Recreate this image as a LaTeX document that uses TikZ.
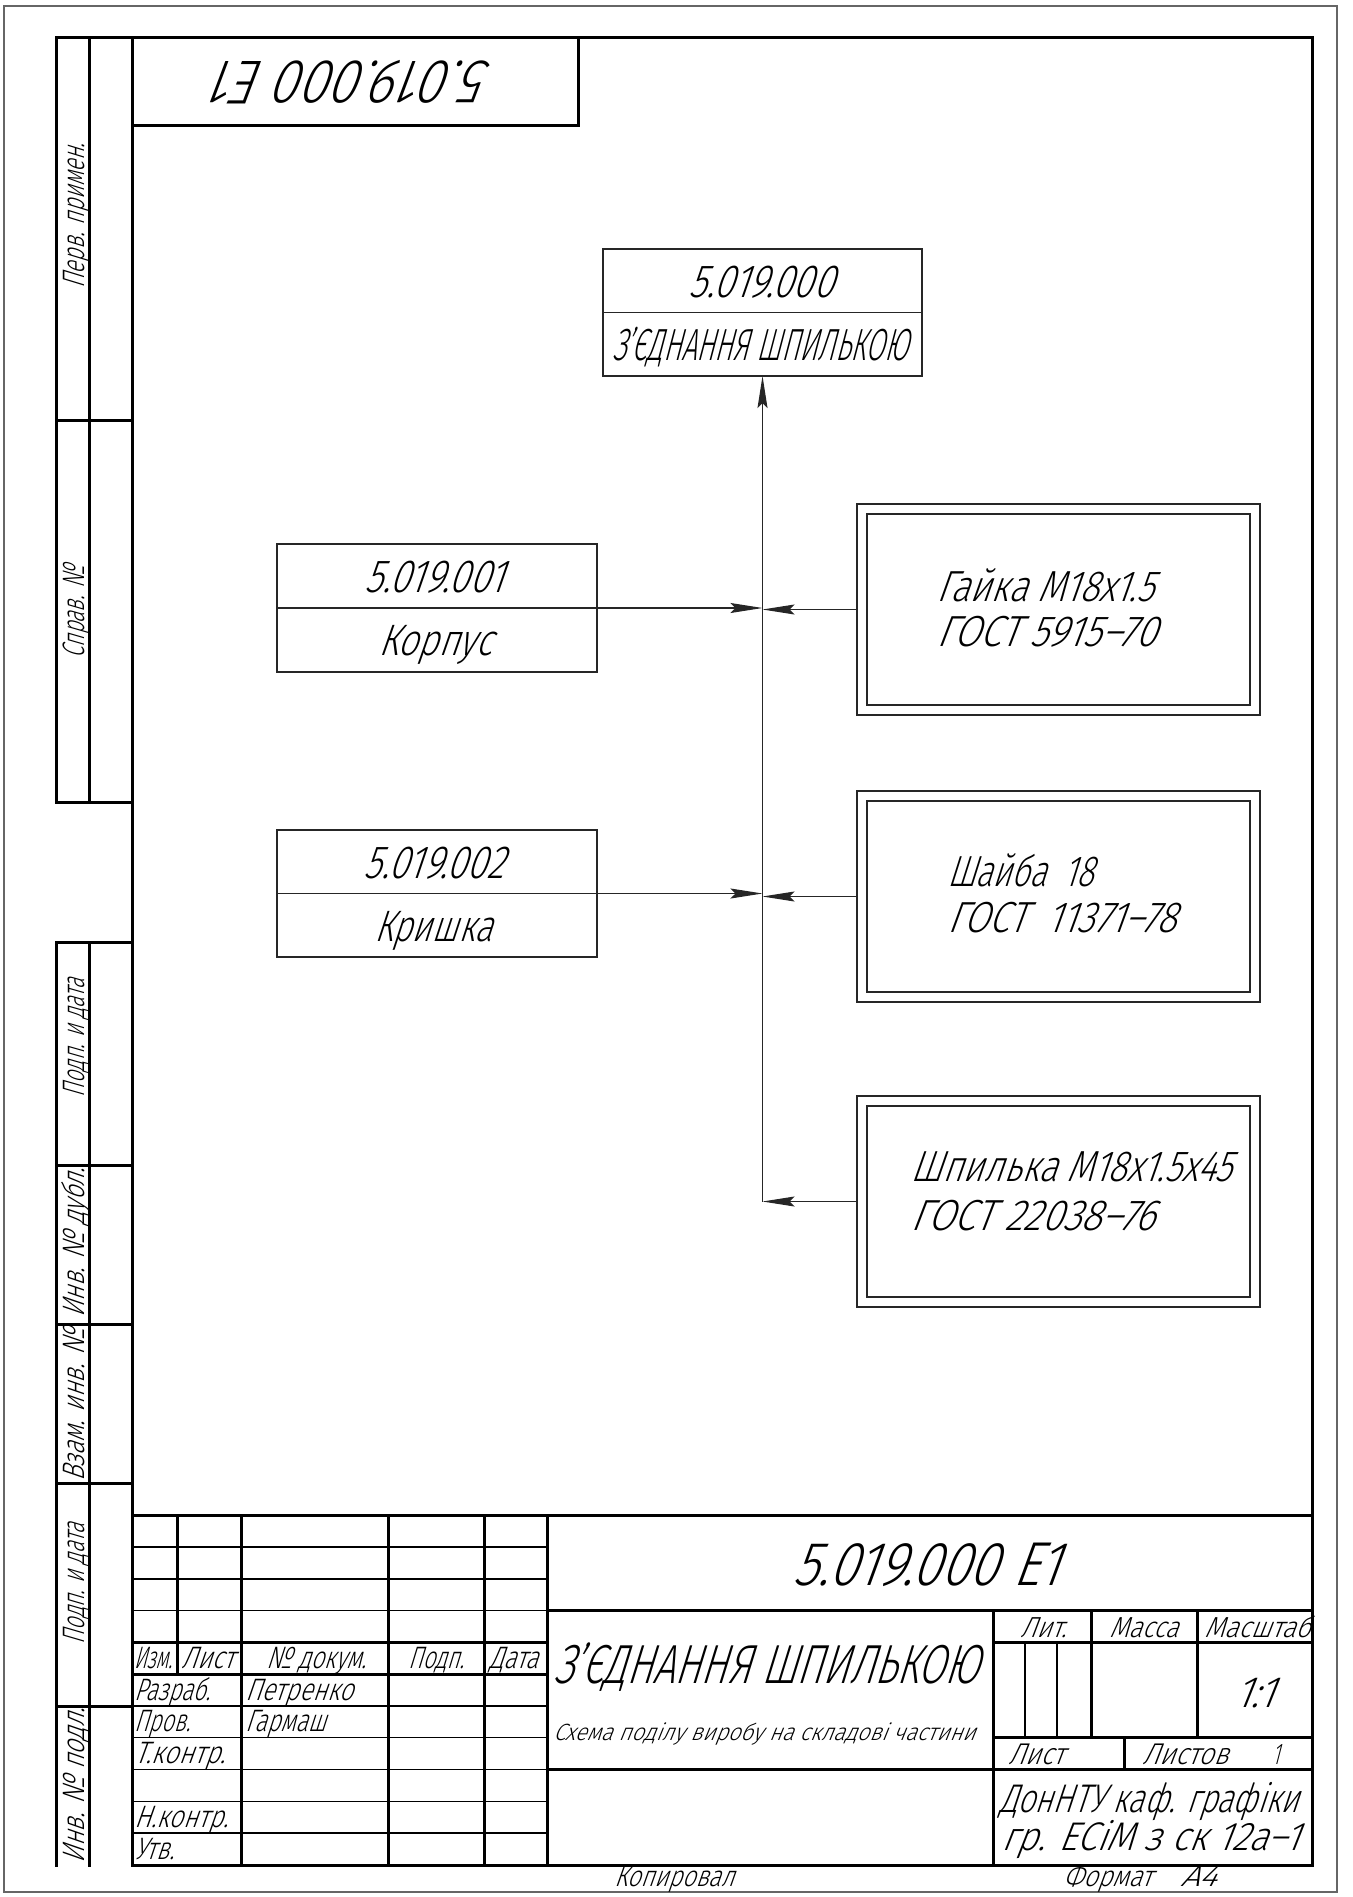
\documentclass[tikz,border=0pt]{standalone}
\usepackage{fontspec}
\usepackage{graphicx}
\usetikzlibrary{arrows.meta}
\newfontfamily\gostfont{Fira Sans Light}[FakeStretch=0.6,FakeSlant=0.26]
\newcommand\gtxt[3]{{\fontsize{#1pt}{#1pt}\selectfont\resizebox{#2pt}{\height}{#3}}}
\begin{document}
\begin{tikzpicture}[x=1pt,y=1pt,
  every node/.style={inner sep=0pt,outer sep=0pt,font=\gostfont},
  frm/.style={line width=3pt,line cap=rect},
  thn/.style={line width=1.1pt},
  bx/.style={draw,rectangle,line width=1.2pt,black!85},
  conn/.style={line width=1.1pt,black!85,-{Stealth[length=32pt,width=10pt,inset=5pt]}},
  tb/.style={anchor=base west},
  tc/.style={anchor=base},
  st/.style={anchor=base,rotate=90}]
\useasboundingbox (0,0) rectangle (1352,-1897);
\fill[white] (0,0) rectangle (1352,-1897);
% sheet border
\draw[line width=1.2pt,black!60] (4,-6) rectangle (1337,-1892);
% main frame
\draw[frm] (132,-38) rectangle (1312,-1865);
% top stamp
\draw[frm] (132,-38) rectangle (578,-126);
\node[rotate=180] (stamp) at (356,-82) {\gtxt{62}{274}{5.019.000 Е1}};
% left strip upper
\draw[frm] (132,-38) -| (56,-802) -- (132,-802);
\draw[frm] (89,-38) -- (89,-802);
\draw[frm] (56,-420) -- (132,-420);
% left strip lower
\draw[frm] (132,-942) -| (56,-1865);
\draw[frm] (89,-942) -- (89,-1865);
\foreach \yy in {1165,1324,1483,1706} \draw[frm] (56,-\yy) -- (132,-\yy);
\node[st] (s1) at (84,-216) {\gtxt{31}{145}{Перв. примен.}};
\node[st] (s2) at (84,-612) {\gtxt{31}{92}{Справ. №}};
\node[st] (s3) at (84,-1038) {\gtxt{31}{118}{Подп. и дата}};
\node[st] (s4) at (84,-1243) {\gtxt{31}{149}{Инв. № дубл.}};
\node[st] (s5) at (84,-1405) {\gtxt{31}{153}{Взам. инв. №}};
\node[st] (s6) at (84,-1584) {\gtxt{31}{121}{Подп. и дата}};
\node[st] (s7) at (84,-1786) {\gtxt{31}{155}{Инв. № подл.}};
% title block
\draw[frm] (132,-1515) -- (1312,-1515);
\foreach \yy in {1547,1579,1610.5,1706,1737.5,1769.5,1801.5,1833} \draw[thn] (132,-\yy) -- (547,-\yy);
\foreach \yy in {1642,1674} \draw[frm] (132,-\yy) -- (547,-\yy);
\draw[frm] (177,-1515) -- (177,-1674);
\foreach \xx in {241,388,484,547} \draw[frm] (\xx,-1515) -- (\xx,-1865);
\draw[frm] (547,-1610.5) -- (1312,-1610.5);
\draw[frm] (547,-1769.5) -- (1312,-1769.5);
\draw[frm] (993,-1610.5) -- (993,-1865);
\draw[frm] (993,-1642) -- (1312,-1642);
\draw[frm] (993,-1737.5) -- (1312,-1737.5);
\draw[frm] (1091,-1610.5) -- (1091,-1737.5);
\draw[frm] (1197,-1610.5) -- (1197,-1737.5);
\draw[thn] (1025,-1642) -- (1025,-1737.5);
\draw[thn] (1057,-1642) -- (1057,-1737.5);
\draw[frm] (1124,-1737.5) -- (1124,-1769.5);
% title block texts
\node[tb] (h1) at (134,-1668) {\gtxt{31}{38}{Изм.}};
\node[tb] (h2) at (181,-1668) {\gtxt{31}{53}{Лист}};
\node[tb] (h3) at (266,-1668) {\gtxt{31}{100}{№ докум.}};
\node[tb] (h4) at (408,-1668) {\gtxt{31}{56}{Подп.}};
\node[tb] (h5) at (489,-1668) {\gtxt{31}{49}{Дата}};
\node[tb] (r1) at (134,-1700) {\gtxt{31}{76}{Разраб.}};
\node[tb] (r1n) at (245,-1700) {\gtxt{31}{108}{Петренко}};
\node[tb] (r2) at (134,-1731) {\gtxt{31}{56}{Пров.}};
\node[tb] (r2n) at (245,-1731) {\gtxt{31}{81}{Гармаш}};
\node[tb] (r3) at (134,-1763) {\gtxt{31}{91}{Т.контр.}};
\node[tb] (r5) at (134,-1827) {\gtxt{31}{94}{Н.контр.}};
\node[tb] (r6) at (134,-1859) {\gtxt{31}{40}{Утв.}};
\node[tc] (code) at (926,-1585) {\gtxt{62}{267}{5.019.000 Е1}};
\node[tb] (name) at (553,-1683) {\gtxt{55}{426}{З’ЄДНАННЯ ШПИЛЬКОЮ}};
\node[tb] (sub) at (553,-1740) {\gtxt{23.5}{422}{Схема поділу виробу на складові частини}};
\node[tc] (lit) at (1043,-1637) {\gtxt{29}{46}{Лит.}};
\node[tc] (mas) at (1143.5,-1637) {\gtxt{29}{69}{Масса}};
\node[tc] (msh) at (1257,-1637) {\gtxt{29}{106}{Масштаб}};
\node[tc] (scl) at (1254,-1707) {\gtxt{44}{40}{1:1}};
\node[tb] (lst) at (1008,-1764) {\gtxt{30}{56}{Лист}};
\node[tb] (lsts) at (1142,-1764) {\gtxt{30}{86}{Листов}};
\node[tb] (lstn) at (1272,-1764) {\fontsize{30pt}{30pt}\selectfont 1};
\node[tb] (org1) at (999,-1812) {\gtxt{40}{300}{ДонНТУ каф. графіки}};
\node[tb] (org2) at (1001,-1850) {\gtxt{40}{298}{гр. ЕСіМ з ск 12а–1}};
\node[tb] (kop) at (614,-1886) {\gtxt{29}{120}{Копировал}};
\node[tb] (fmt) at (1063,-1886) {\gtxt{29}{89}{Формат}};
\node[tb] (fmta) at (1180,-1886) {\gtxt{29}{36}{А4}};
% diagram boxes
\node[bx,minimum width=319pt,minimum height=127pt] (top) at (762.5,-312.5) {};
\draw[bx] (top.west) -- (top.east);
\node[tc] (top1) at (761,-297) {\gtxt{46.5}{145}{5.019.000}};
\node[tc] (top2) at (760,-360) {\gtxt{45}{296}{З’ЄДНАННЯ ШПИЛЬКОЮ}};
\node[bx,minimum width=320pt,minimum height=128pt] (korpus) at (437,-608) {};
\draw[bx] (korpus.west) -- (korpus.east);
\node[tc] (k1) at (434,-592) {\gtxt{46.5}{140}{5.019.001}};
\node[tc] (k2) at (435,-655) {\gtxt{44}{114}{Корпус}};
\node[bx,minimum width=320pt,minimum height=127pt] (kryshka) at (437,-893.5) {};
\draw[bx] (kryshka.west) -- (kryshka.east);
\node[tc] (c1) at (434,-878) {\gtxt{46.5}{140}{5.019.002}};
\node[tc] (c2) at (433,-941) {\gtxt{44}{118}{Кришка}};
\foreach \nm/\yc in {gayka/609.5,shayba/896.5,shpilka/1201.5}{
  \node[bx,minimum width=403pt,minimum height=211pt] (\nm) at (1058.5,-\yc) {};
  \draw[bx] ([shift={(10pt,-10pt)}]\nm.north west) rectangle ([shift={(-10pt,10pt)}]\nm.south east);
}
\node[tb] (g1) at (936,-601) {\gtxt{43.5}{218}{Гайка М18х1.5}};
\node[tb] (g2) at (936,-646) {\gtxt{43.5}{220}{ГОСТ 5915–70}};
\node[tb] (w1) at (947,-886) {\gtxt{43.5}{147}{Шайба\ \ 18}};
\node[tb] (w2) at (947,-932) {\gtxt{43.5}{229}{ГОСТ\ \ 11371–78}};
\node[tb] (p1) at (910,-1181) {\gtxt{43.5}{322}{Шпилька М18х1.5х45}};
\node[tb] (p2) at (910,-1230) {\gtxt{43.5}{245}{ГОСТ 22038–76}};
% connectors
\coordinate (jend) at (762.5,-1201.5);
\draw[conn] (jend) -- (top.south);
\draw[conn] (korpus.east) -- (korpus.east -| jend);
\draw[conn] (gayka.west) -- (gayka.west -| jend);
\draw[conn] (kryshka.east) -- (kryshka.east -| jend);
\draw[conn] (shayba.west) -- (shayba.west -| jend);
\draw[conn] (shpilka.west) -- (jend);
\end{tikzpicture}
\end{document}
